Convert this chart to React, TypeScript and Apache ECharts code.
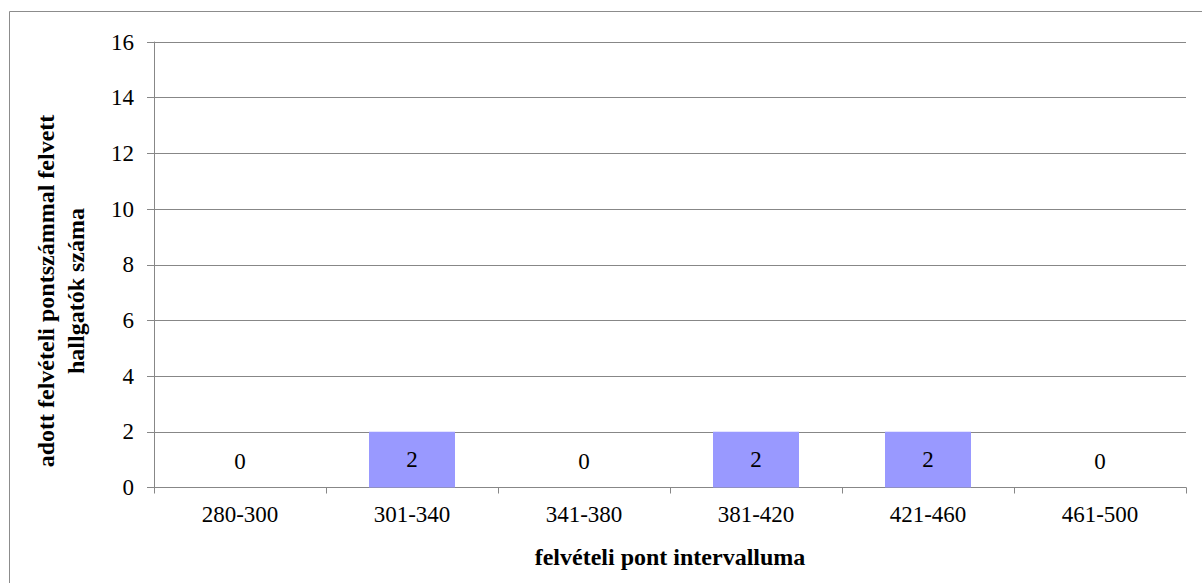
import React, { useEffect, useRef } from "react";
import * as echarts from "echarts";

const categories = ["280-300", "301-340", "341-380", "381-420", "421-460", "461-500"];
const values = [0, 2, 0, 2, 2, 0];
const yTicks = [0, 2, 4, 6, 8, 10, 12, 14, 16];
const xTitle = "felvételi pont intervalluma";
const yTitle = "adott felvételi pontszámmal felvett\nhallgatók száma";

const FONT = "Liberation Serif";
const GRAY = "#878787";
const TICK_FS = 23;
const TITLE_FS = 24;

export default function App() {
  const ref = useRef<HTMLDivElement>(null);
  useEffect(() => {
    if (!ref.current) return;
    const chart = echarts.init(ref.current, undefined, { renderer: "svg" });
    chart.setOption({
      animation: false,
      backgroundColor: "#ffffff",
      textStyle: { fontFamily: FONT, fontSize: TICK_FS },
      graphic: [
        {
          type: "rect",
          shape: { x: 9.5, y: 11.5, width: 1200, height: 600 },
          style: { fill: "none", stroke: "#8c8c8c", lineWidth: 1 },
          silent: true,
        },
        {
          type: "text",
          x: 61,
          y: 291,
          rotation: Math.PI / 2,
          style: {
            text: yTitle,
            fontFamily: FONT,
            fontSize: TITLE_FS,
            fontWeight: "bold",
            fill: "#000",
            align: "center",
            verticalAlign: "middle",
            lineHeight: 30,
          },
        },
      ],
      grid: { left: 154, right: 16, top: 42, bottom: 95.5, containLabel: false },
      xAxis: {
        type: "category",
        data: categories,
        name: xTitle,
        nameLocation: "middle",
        nameGap: 57,
        nameTextStyle: { fontFamily: FONT, fontSize: TITLE_FS, fontWeight: "bold", color: "#000" },
        axisLine: { show: true, lineStyle: { color: GRAY, width: 1 } },
        axisTick: { show: true, alignWithLabel: false, length: 6, lineStyle: { color: GRAY } },
        axisLabel: { fontFamily: FONT, fontSize: TICK_FS, color: "#000", margin: 15 },
        splitLine: { show: false },
      },
      yAxis: {
        type: "value",
        min: yTicks[0],
        max: yTicks[yTicks.length - 1],
        interval: 2,
        axisLine: { show: true, lineStyle: { color: GRAY, width: 1 } },
        axisTick: { show: true, length: 7, lineStyle: { color: GRAY } },
        axisLabel: { fontFamily: FONT, fontSize: TICK_FS, color: "#000", margin: 20 },
        splitLine: { show: true, lineStyle: { color: GRAY, width: 1 } },
      },
      series: [
        {
          type: "bar",
          barWidth: "50%",
          itemStyle: { color: "#9999ff" },
          data: values.map((v) =>
            v === 0
              ? { value: v, label: { position: "top", distance: 15 } }
              : { value: v }
          ),
          label: {
            show: true,
            position: "inside",
            fontFamily: FONT,
            fontSize: TICK_FS,
            color: "#000",
          },
        },
      ],
    });
    return () => chart.dispose();
  }, []);
  return <div ref={ref} style={{ width: 1202, height: 583, position: "absolute", left: 0, top: 0 }} />;
}
